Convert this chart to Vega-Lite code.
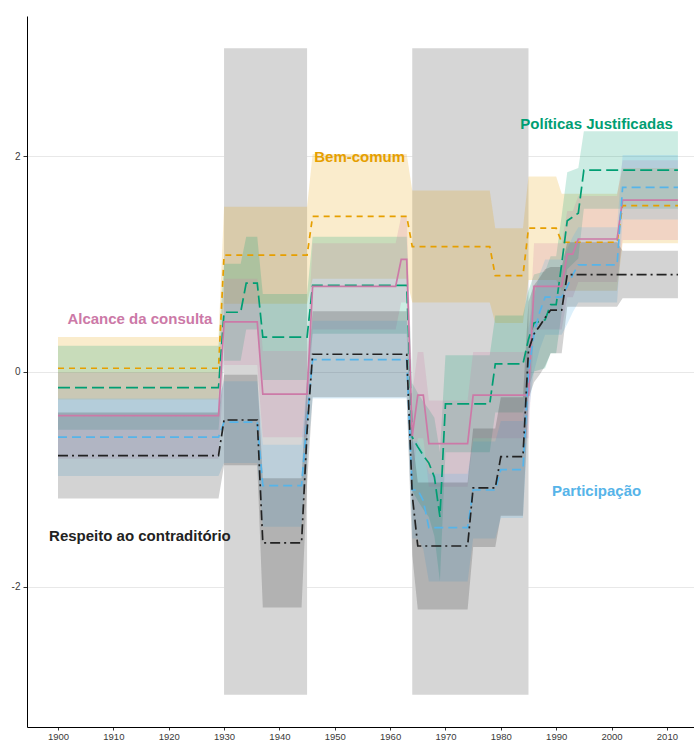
{
  "$schema": "https://vega.github.io/schema/vega-lite/v6.json",
  "width": 667,
  "height": 711,
  "autosize": {"type": "none"},
  "padding": {"left": 27, "top": 16, "right": 0, "bottom": 15},
  "background": "white",
  "config": {
    "view": {"stroke": null},
    "font": "Liberation Sans",
    "axisX": {"grid": false, "tickSize": 3, "tickColor": "#333333", "domainColor": "#000000", "domainWidth": 1,
              "labelFontSize": 9.5, "labelColor": "#3a3a3a", "labelPadding": 1, "labelBaseline": "top", "labelFont": "Liberation Sans"},
    "axisY": {"grid": true, "gridColor": "#e8e8e8", "gridWidth": 1, "tickSize": 4, "tickColor": "#333333",
              "domainColor": "#000000", "domainWidth": 1, "labelFontSize": 10, "labelColor": "#3a3a3a",
              "labelPadding": 3, "labelFont": "Liberation Sans"}
  },
  "datasets": {
    "rects": [
      {"year": 1930, "year2": 1945, "v": -3, "v2": 3},
      {"year": 1964, "year2": 1985, "v": -3, "v2": 3}
    ],
    "series": [
      {"s": "Bem-comum", "year": 1900, "v": 0.03, "lo": -0.26, "hi": 0.32},
      {"s": "Bem-comum", "year": 1929, "v": 0.03, "lo": -0.26, "hi": 0.32},
      {"s": "Bem-comum", "year": 1930, "v": 1.08, "lo": 0.63, "hi": 1.53},
      {"s": "Bem-comum", "year": 1945, "v": 1.08, "lo": 0.63, "hi": 1.53},
      {"s": "Bem-comum", "year": 1946, "v": 1.44, "lo": 0.86, "hi": 2.02},
      {"s": "Bem-comum", "year": 1963, "v": 1.44, "lo": 0.86, "hi": 2.02},
      {"s": "Bem-comum", "year": 1964, "v": 1.16, "lo": 0.64, "hi": 1.68},
      {"s": "Bem-comum", "year": 1978, "v": 1.16, "lo": 0.64, "hi": 1.68},
      {"s": "Bem-comum", "year": 1979, "v": 0.89, "lo": 0.45, "hi": 1.33},
      {"s": "Bem-comum", "year": 1984, "v": 0.89, "lo": 0.45, "hi": 1.33},
      {"s": "Bem-comum", "year": 1985, "v": 1.33, "lo": 0.85, "hi": 1.81},
      {"s": "Bem-comum", "year": 1990, "v": 1.33, "lo": 0.85, "hi": 1.81},
      {"s": "Bem-comum", "year": 1991, "v": 1.20, "lo": 0.75, "hi": 1.65},
      {"s": "Bem-comum", "year": 2001, "v": 1.20, "lo": 0.75, "hi": 1.65},
      {"s": "Bem-comum", "year": 2002, "v": 1.54, "lo": 1.19, "hi": 1.89},
      {"s": "Bem-comum", "year": 2012, "v": 1.54, "lo": 1.19, "hi": 1.89},

      {"s": "Políticas Justificadas", "year": 1900, "v": -0.15, "lo": -0.54, "hi": 0.24},
      {"s": "Políticas Justificadas", "year": 1929, "v": -0.15, "lo": -0.54, "hi": 0.24},
      {"s": "Políticas Justificadas", "year": 1930, "v": 0.55, "lo": 0.10, "hi": 1.00},
      {"s": "Políticas Justificadas", "year": 1933, "v": 0.55, "lo": 0.10, "hi": 1.00},
      {"s": "Políticas Justificadas", "year": 1934, "v": 0.82, "lo": 0.39, "hi": 1.25},
      {"s": "Políticas Justificadas", "year": 1936, "v": 0.82, "lo": 0.39, "hi": 1.25},
      {"s": "Políticas Justificadas", "year": 1937, "v": 0.32, "lo": -0.08, "hi": 0.72},
      {"s": "Políticas Justificadas", "year": 1945, "v": 0.32, "lo": -0.08, "hi": 0.72},
      {"s": "Políticas Justificadas", "year": 1946, "v": 0.80, "lo": 0.35, "hi": 1.25},
      {"s": "Políticas Justificadas", "year": 1963, "v": 0.80, "lo": 0.35, "hi": 1.25},
      {"s": "Políticas Justificadas", "year": 1964, "v": -0.61, "lo": -1.11, "hi": -0.11},
      {"s": "Políticas Justificadas", "year": 1965, "v": -0.70, "lo": -1.20, "hi": -0.20},
      {"s": "Políticas Justificadas", "year": 1966, "v": -0.78, "lo": -1.28, "hi": -0.28},
      {"s": "Políticas Justificadas", "year": 1967, "v": -0.85, "lo": -1.35, "hi": -0.35},
      {"s": "Políticas Justificadas", "year": 1968, "v": -0.98, "lo": -1.53, "hi": -0.43},
      {"s": "Políticas Justificadas", "year": 1969, "v": -1.35, "lo": -1.95, "hi": -0.75},
      {"s": "Políticas Justificadas", "year": 1970, "v": -0.30, "lo": -0.75, "hi": 0.15},
      {"s": "Políticas Justificadas", "year": 1978, "v": -0.30, "lo": -0.75, "hi": 0.15},
      {"s": "Políticas Justificadas", "year": 1979, "v": 0.07, "lo": -0.38, "hi": 0.52},
      {"s": "Políticas Justificadas", "year": 1984, "v": 0.07, "lo": -0.38, "hi": 0.52},
      {"s": "Políticas Justificadas", "year": 1985, "v": 0.30, "lo": -0.15, "hi": 0.75},
      {"s": "Políticas Justificadas", "year": 1986, "v": 0.45, "lo": 0.00, "hi": 0.90},
      {"s": "Políticas Justificadas", "year": 1988, "v": 0.48, "lo": 0.03, "hi": 0.93},
      {"s": "Políticas Justificadas", "year": 1989, "v": 0.62, "lo": 0.17, "hi": 1.07},
      {"s": "Políticas Justificadas", "year": 1990, "v": 0.62, "lo": 0.17, "hi": 1.07},
      {"s": "Políticas Justificadas", "year": 1991, "v": 1.00, "lo": 0.55, "hi": 1.45},
      {"s": "Políticas Justificadas", "year": 1992, "v": 1.40, "lo": 0.95, "hi": 1.85},
      {"s": "Políticas Justificadas", "year": 1994, "v": 1.47, "lo": 1.05, "hi": 1.89},
      {"s": "Políticas Justificadas", "year": 1995, "v": 1.87, "lo": 1.51, "hi": 2.23},
      {"s": "Políticas Justificadas", "year": 2012, "v": 1.87, "lo": 1.51, "hi": 2.23},

      {"s": "Alcance da consulta", "year": 1900, "v": -0.41, "lo": -0.81, "hi": -0.01},
      {"s": "Alcance da consulta", "year": 1929, "v": -0.41, "lo": -0.81, "hi": -0.01},
      {"s": "Alcance da consulta", "year": 1930, "v": 0.46, "lo": 0.06, "hi": 0.86},
      {"s": "Alcance da consulta", "year": 1936, "v": 0.46, "lo": 0.06, "hi": 0.86},
      {"s": "Alcance da consulta", "year": 1937, "v": -0.21, "lo": -0.61, "hi": 0.19},
      {"s": "Alcance da consulta", "year": 1945, "v": -0.21, "lo": -0.61, "hi": 0.19},
      {"s": "Alcance da consulta", "year": 1946, "v": 0.79, "lo": 0.39, "hi": 1.19},
      {"s": "Alcance da consulta", "year": 1961, "v": 0.79, "lo": 0.39, "hi": 1.19},
      {"s": "Alcance da consulta", "year": 1962, "v": 1.04, "lo": 0.64, "hi": 1.44},
      {"s": "Alcance da consulta", "year": 1963, "v": 1.04, "lo": 0.64, "hi": 1.44},
      {"s": "Alcance da consulta", "year": 1964, "v": -0.60, "lo": -1.00, "hi": -0.20},
      {"s": "Alcance da consulta", "year": 1965, "v": -0.22, "lo": -0.62, "hi": 0.18},
      {"s": "Alcance da consulta", "year": 1966, "v": -0.22, "lo": -0.62, "hi": 0.18},
      {"s": "Alcance da consulta", "year": 1967, "v": -0.67, "lo": -1.07, "hi": -0.27},
      {"s": "Alcance da consulta", "year": 1974, "v": -0.67, "lo": -1.07, "hi": -0.27},
      {"s": "Alcance da consulta", "year": 1975, "v": -0.22, "lo": -0.62, "hi": 0.18},
      {"s": "Alcance da consulta", "year": 1985, "v": -0.22, "lo": -0.62, "hi": 0.18},
      {"s": "Alcance da consulta", "year": 1986, "v": 0.79, "lo": 0.39, "hi": 1.19},
      {"s": "Alcance da consulta", "year": 1991, "v": 0.79, "lo": 0.39, "hi": 1.19},
      {"s": "Alcance da consulta", "year": 1992, "v": 1.09, "lo": 0.69, "hi": 1.49},
      {"s": "Alcance da consulta", "year": 1993, "v": 1.09, "lo": 0.69, "hi": 1.49},
      {"s": "Alcance da consulta", "year": 1994, "v": 1.23, "lo": 0.83, "hi": 1.63},
      {"s": "Alcance da consulta", "year": 2001, "v": 1.23, "lo": 0.83, "hi": 1.63},
      {"s": "Alcance da consulta", "year": 2002, "v": 1.59, "lo": 1.22, "hi": 1.96},
      {"s": "Alcance da consulta", "year": 2012, "v": 1.59, "lo": 1.22, "hi": 1.96},

      {"s": "Participação", "year": 1900, "v": -0.61, "lo": -0.97, "hi": -0.25},
      {"s": "Participação", "year": 1929, "v": -0.61, "lo": -0.97, "hi": -0.25},
      {"s": "Participação", "year": 1930, "v": -0.47, "lo": -0.85, "hi": -0.09},
      {"s": "Participação", "year": 1936, "v": -0.47, "lo": -0.85, "hi": -0.09},
      {"s": "Participação", "year": 1937, "v": -1.06, "lo": -1.44, "hi": -0.68},
      {"s": "Participação", "year": 1944, "v": -1.06, "lo": -1.44, "hi": -0.68},
      {"s": "Participação", "year": 1945, "v": -0.45, "lo": -0.83, "hi": -0.07},
      {"s": "Participação", "year": 1946, "v": 0.11, "lo": -0.25, "hi": 0.47},
      {"s": "Participação", "year": 1963, "v": 0.11, "lo": -0.25, "hi": 0.47},
      {"s": "Participação", "year": 1964, "v": -1.10, "lo": -1.55, "hi": -0.65},
      {"s": "Participação", "year": 1965, "v": -1.10, "lo": -1.55, "hi": -0.65},
      {"s": "Participação", "year": 1966, "v": -1.20, "lo": -1.65, "hi": -0.75},
      {"s": "Participação", "year": 1967, "v": -1.45, "lo": -1.95, "hi": -0.95},
      {"s": "Participação", "year": 1974, "v": -1.45, "lo": -1.95, "hi": -0.95},
      {"s": "Participação", "year": 1975, "v": -1.10, "lo": -1.55, "hi": -0.65},
      {"s": "Participação", "year": 1979, "v": -1.10, "lo": -1.55, "hi": -0.65},
      {"s": "Participação", "year": 1980, "v": -0.91, "lo": -1.36, "hi": -0.46},
      {"s": "Participação", "year": 1984, "v": -0.91, "lo": -1.36, "hi": -0.46},
      {"s": "Participação", "year": 1985, "v": 0.00, "lo": -0.40, "hi": 0.40},
      {"s": "Participação", "year": 1986, "v": 0.35, "lo": 0.00, "hi": 0.70},
      {"s": "Participação", "year": 1987, "v": 0.55, "lo": 0.20, "hi": 0.90},
      {"s": "Participação", "year": 1988, "v": 0.69, "lo": 0.34, "hi": 1.04},
      {"s": "Participação", "year": 1991, "v": 0.69, "lo": 0.34, "hi": 1.04},
      {"s": "Participação", "year": 1992, "v": 0.79, "lo": 0.44, "hi": 1.14},
      {"s": "Participação", "year": 1993, "v": 0.90, "lo": 0.55, "hi": 1.25},
      {"s": "Participação", "year": 1994, "v": 0.99, "lo": 0.64, "hi": 1.34},
      {"s": "Participação", "year": 2001, "v": 0.99, "lo": 0.64, "hi": 1.34},
      {"s": "Participação", "year": 2002, "v": 1.71, "lo": 1.41, "hi": 2.01},
      {"s": "Participação", "year": 2012, "v": 1.71, "lo": 1.41, "hi": 2.01},

      {"s": "Respeito ao contraditório", "year": 1900, "v": -0.78, "lo": -1.18, "hi": -0.38},
      {"s": "Respeito ao contraditório", "year": 1929, "v": -0.78, "lo": -1.18, "hi": -0.38},
      {"s": "Respeito ao contraditório", "year": 1930, "v": -0.45, "lo": -0.87, "hi": -0.03},
      {"s": "Respeito ao contraditório", "year": 1936, "v": -0.45, "lo": -0.87, "hi": -0.03},
      {"s": "Respeito ao contraditório", "year": 1937, "v": -1.59, "lo": -2.19, "hi": -0.99},
      {"s": "Respeito ao contraditório", "year": 1944, "v": -1.59, "lo": -2.19, "hi": -0.99},
      {"s": "Respeito ao contraditório", "year": 1945, "v": -0.55, "lo": -1.05, "hi": -0.05},
      {"s": "Respeito ao contraditório", "year": 1946, "v": 0.16, "lo": -0.24, "hi": 0.56},
      {"s": "Respeito ao contraditório", "year": 1963, "v": 0.16, "lo": -0.24, "hi": 0.56},
      {"s": "Respeito ao contraditório", "year": 1964, "v": -1.15, "lo": -1.70, "hi": -0.60},
      {"s": "Respeito ao contraditório", "year": 1965, "v": -1.62, "lo": -2.21, "hi": -1.03},
      {"s": "Respeito ao contraditório", "year": 1974, "v": -1.62, "lo": -2.21, "hi": -1.03},
      {"s": "Respeito ao contraditório", "year": 1975, "v": -1.08, "lo": -1.63, "hi": -0.53},
      {"s": "Respeito ao contraditório", "year": 1979, "v": -1.08, "lo": -1.63, "hi": -0.53},
      {"s": "Respeito ao contraditório", "year": 1980, "v": -0.79, "lo": -1.34, "hi": -0.24},
      {"s": "Respeito ao contraditório", "year": 1984, "v": -0.79, "lo": -1.34, "hi": -0.24},
      {"s": "Respeito ao contraditório", "year": 1985, "v": 0.20, "lo": -0.25, "hi": 0.65},
      {"s": "Respeito ao contraditório", "year": 1986, "v": 0.35, "lo": -0.10, "hi": 0.80},
      {"s": "Respeito ao contraditório", "year": 1987, "v": 0.42, "lo": -0.03, "hi": 0.87},
      {"s": "Respeito ao contraditório", "year": 1988, "v": 0.50, "lo": 0.05, "hi": 0.95},
      {"s": "Respeito ao contraditório", "year": 1989, "v": 0.57, "lo": 0.17, "hi": 0.97},
      {"s": "Respeito ao contraditório", "year": 1991, "v": 0.57, "lo": 0.17, "hi": 0.97},
      {"s": "Respeito ao contraditório", "year": 1992, "v": 0.90, "lo": 0.60, "hi": 1.20},
      {"s": "Respeito ao contraditório", "year": 2001, "v": 0.90, "lo": 0.60, "hi": 1.20},
      {"s": "Respeito ao contraditório", "year": 2002, "v": 0.90, "lo": 0.68, "hi": 1.12},
      {"s": "Respeito ao contraditório", "year": 2012, "v": 0.90, "lo": 0.68, "hi": 1.12}
    ],
    "labels": [
      {"s": "Bem-comum", "label": "Bem-comum", "year": 1954.5, "v": 1.99},
      {"s": "Políticas Justificadas", "label": "Políticas Justificadas", "year": 1997.3, "v": 2.30},
      {"s": "Alcance da consulta", "label": "Alcance da consulta", "year": 1914.8, "v": 0.485},
      {"s": "Participação", "label": "Participação", "year": 1997.3, "v": -1.11},
      {"s": "Respeito ao contraditório", "label": "Respeito ao contraditório", "year": 1914.8, "v": -1.525}
    ]
  },
  "layer": [
    {
      "data": {"name": "rects"},
      "mark": {"type": "rect", "color": "#d6d6d6", "opacity": 1},
      "encoding": {
        "x": {"field": "year", "type": "quantitative",
              "scale": {"domain": [1894.4, 2014.9], "nice": false, "zero": false},
              "axis": {"values": [1900, 1910, 1920, 1930, 1940, 1950, 1960, 1970, 1980, 1990, 2000, 2010], "format": "d", "title": null}},
        "x2": {"field": "year2"},
        "y": {"field": "v", "type": "quantitative",
              "scale": {"domain": [-3.3, 3.3], "nice": false, "zero": false},
              "axis": {"values": [-2, 0, 2], "title": null, "labelExpr": "toString(datum.value)"}},
        "y2": {"field": "v2"}
      }
    },
    {
      "data": {"name": "series"},
      "mark": {"type": "area", "fillOpacity": 0.2, "opacity": 1},
      "encoding": {
        "x": {"field": "year", "type": "quantitative", "scale": {"domain": [1894.4, 2014.9], "nice": false, "zero": false},
              "axis": {"values": [1900, 1910, 1920, 1930, 1940, 1950, 1960, 1970, 1980, 1990, 2000, 2010], "format": "d", "title": null}},
        "y": {"field": "lo", "type": "quantitative", "stack": null, "scale": {"domain": [-3.3, 3.3], "nice": false, "zero": false},
              "axis": {"values": [-2, 0, 2], "title": null, "labelExpr": "toString(datum.value)"}},
        "y2": {"field": "hi"},
        "color": {"field": "s", "type": "nominal",
                  "scale": {"domain": ["Bem-comum", "Políticas Justificadas", "Alcance da consulta", "Participação", "Respeito ao contraditório"],
                            "range": ["#E69F00", "#009E73", "#CC79A7", "#56B4E9", "#222222"]},
                  "legend": null}
      }
    },
    {
      "data": {"name": "series"},
      "mark": {"type": "line", "strokeWidth": 1.7},
      "encoding": {
        "x": {"field": "year", "type": "quantitative", "scale": {"domain": [1894.4, 2014.9], "nice": false, "zero": false},
              "axis": {"values": [1900, 1910, 1920, 1930, 1940, 1950, 1960, 1970, 1980, 1990, 2000, 2010], "format": "d", "title": null}},
        "y": {"field": "v", "type": "quantitative", "scale": {"domain": [-3.3, 3.3], "nice": false, "zero": false},
              "axis": {"values": [-2, 0, 2], "title": null, "labelExpr": "toString(datum.value)"}},
        "color": {"field": "s", "type": "nominal",
                  "scale": {"domain": ["Bem-comum", "Políticas Justificadas", "Alcance da consulta", "Participação", "Respeito ao contraditório"],
                            "range": ["#E69F00", "#009E73", "#CC79A7", "#56B4E9", "#222222"]},
                  "legend": null},
        "strokeDash": {"field": "s", "type": "nominal",
                       "scale": {"domain": ["Bem-comum", "Políticas Justificadas", "Alcance da consulta", "Participação", "Respeito ao contraditório"],
                                 "range": [[6, 5], [12, 5], [1, 0], [9, 5], [10, 4, 2, 4]]},
                       "legend": null}
      }
    },
    {
      "data": {"name": "labels"},
      "mark": {"type": "text", "font": "Liberation Sans", "fontWeight": "bold", "fontSize": 15, "align": "center", "baseline": "middle"},
      "encoding": {
        "x": {"field": "year", "type": "quantitative", "scale": {"domain": [1894.4, 2014.9], "nice": false, "zero": false},
              "axis": {"values": [1900, 1910, 1920, 1930, 1940, 1950, 1960, 1970, 1980, 1990, 2000, 2010], "format": "d", "title": null}},
        "y": {"field": "v", "type": "quantitative", "scale": {"domain": [-3.3, 3.3], "nice": false, "zero": false},
              "axis": {"values": [-2, 0, 2], "title": null, "labelExpr": "toString(datum.value)"}},
        "text": {"field": "label"},
        "color": {"field": "s", "type": "nominal",
                  "scale": {"domain": ["Bem-comum", "Políticas Justificadas", "Alcance da consulta", "Participação", "Respeito ao contraditório"],
                            "range": ["#E69F00", "#009E73", "#CC79A7", "#56B4E9", "#222222"]},
                  "legend": null}
      }
    }
  ]
}
